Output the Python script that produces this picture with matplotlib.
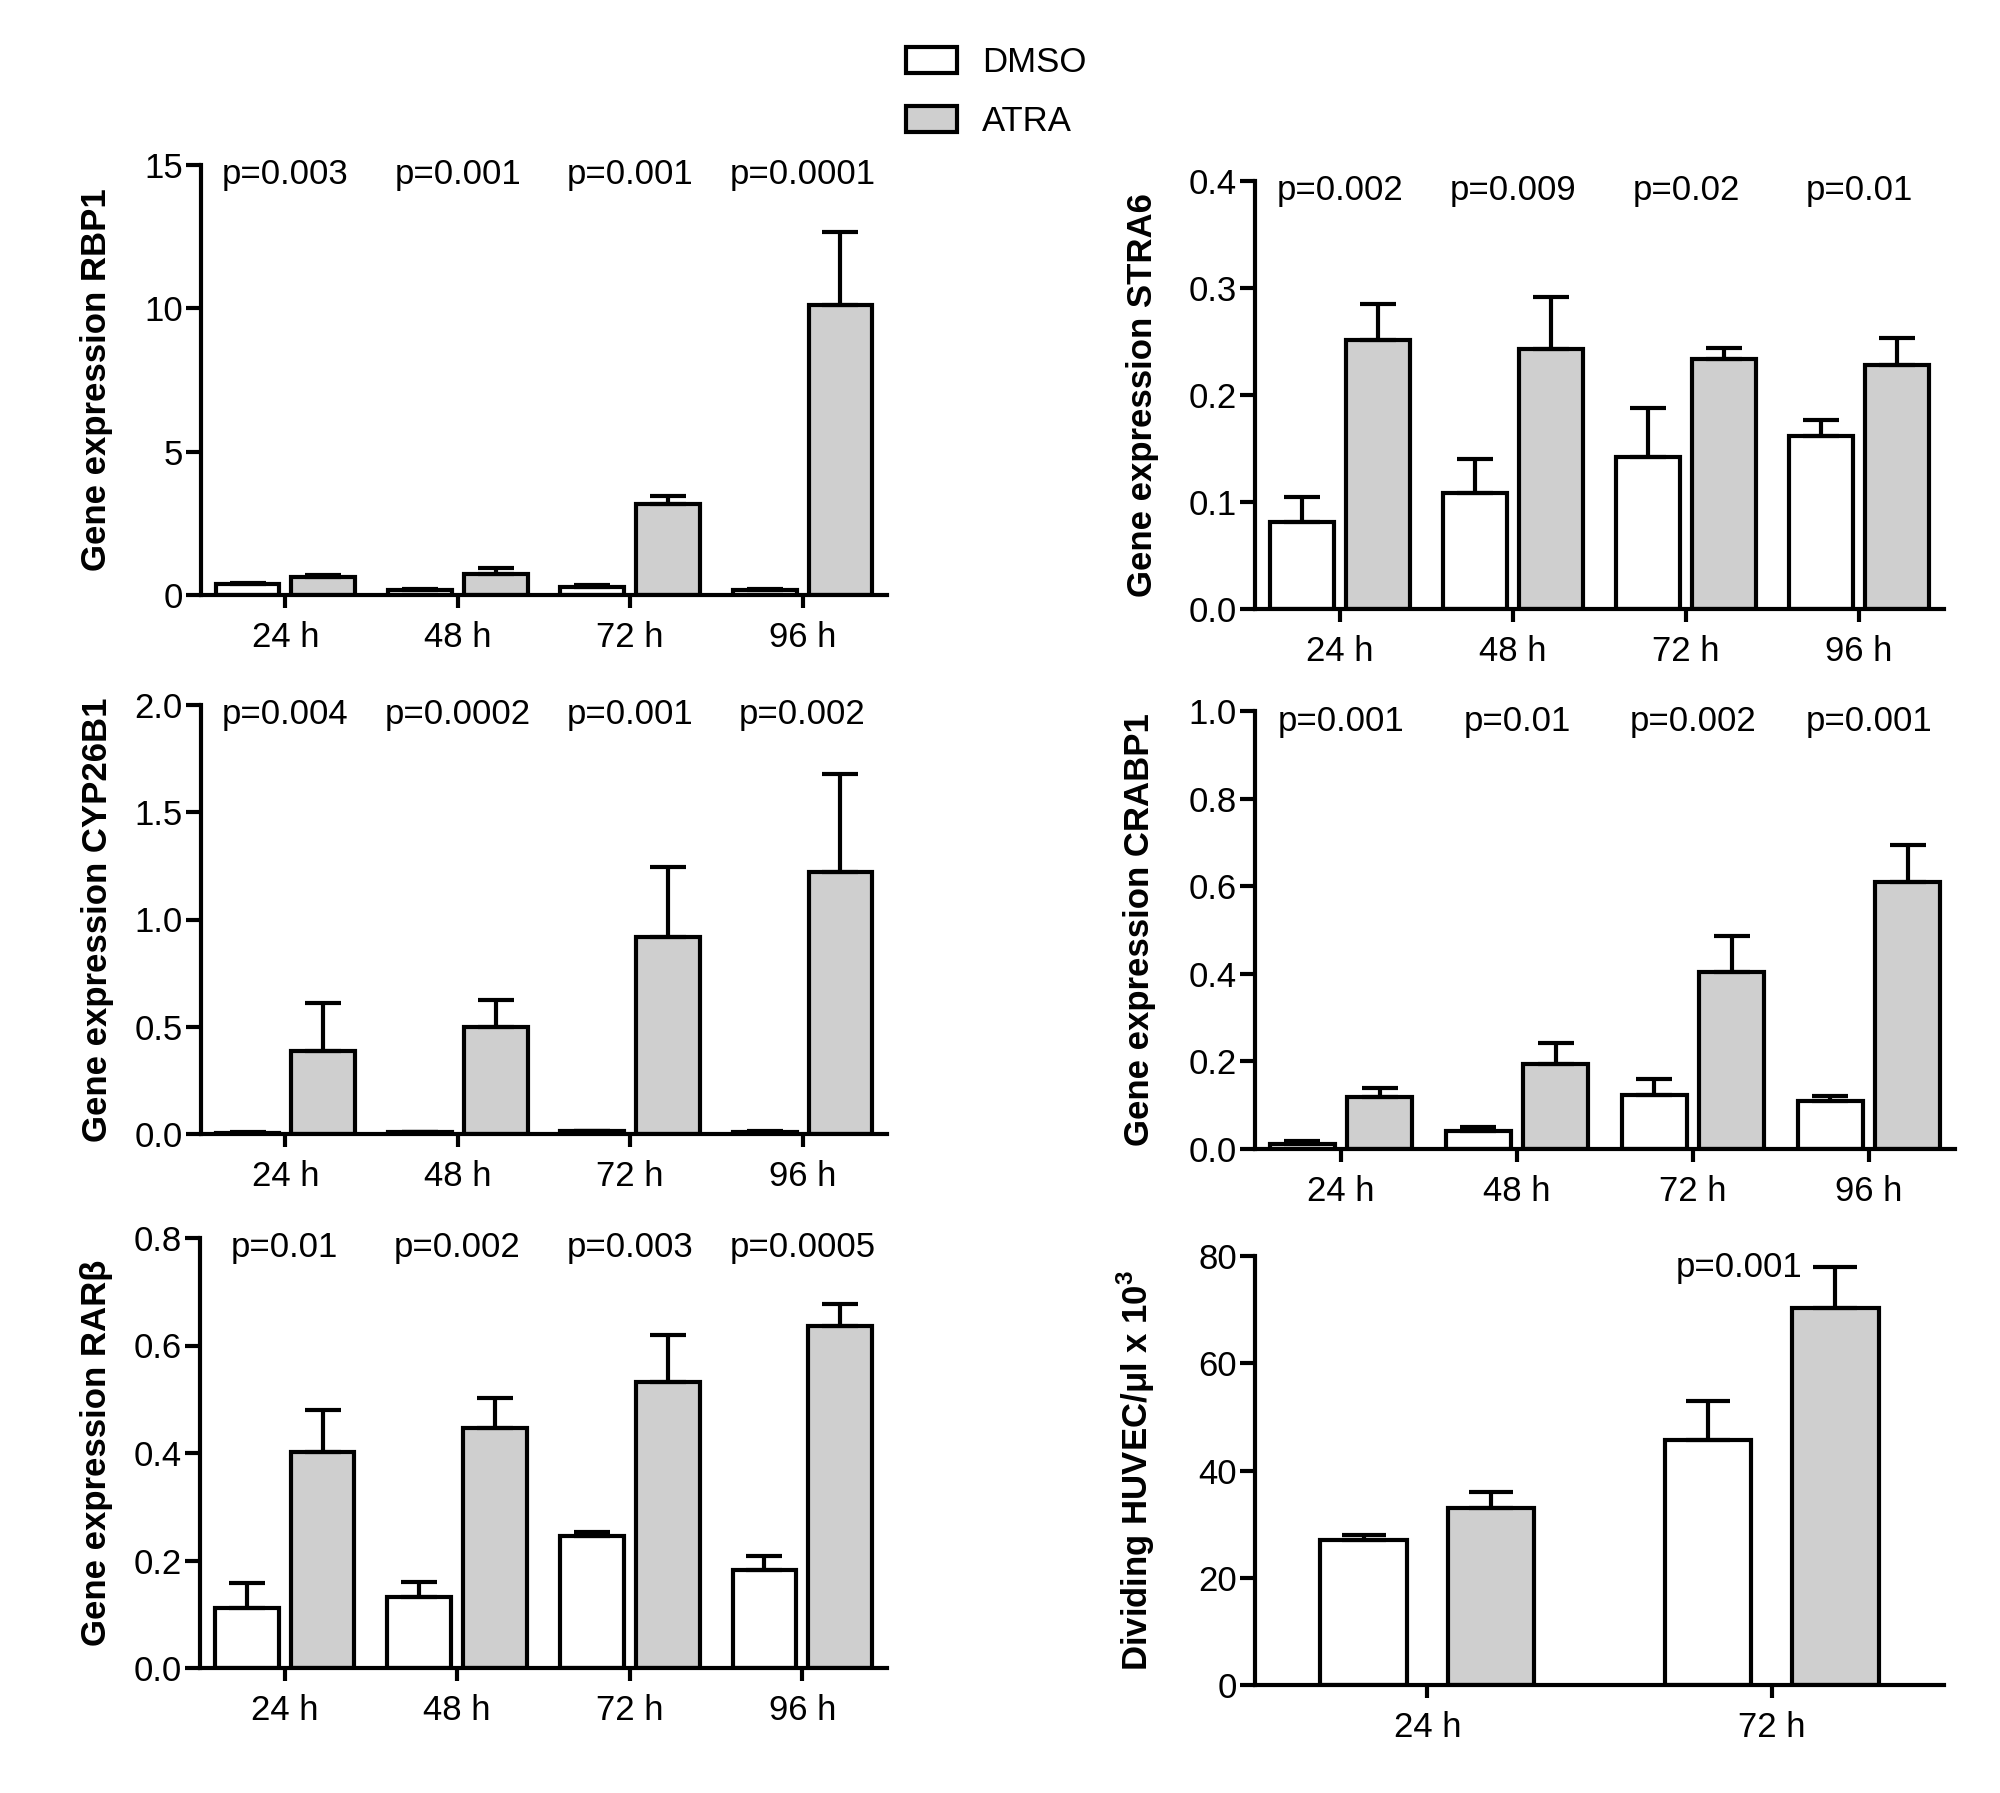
import matplotlib
matplotlib.use('Agg')
import matplotlib.pyplot as plt
from matplotlib.ticker import FormatStrFormatter
from matplotlib.patches import Patch
import numpy as np


#------------------------------------------------------------------------------
# Datos
#------------------------------------------------------------------------------

tiempos = ['24 h', '48 h', '72 h', '96 h']
tiempos_huvec = ['24 h', '72 h']

rbp1_dmso = [0.37, 0.16, 0.28, 0.19]
rbp1_dmso_err = [0.05, 0.04, 0.08, 0.02]
rbp1_atra = [0.62, 0.75, 3.19, 10.1]
rbp1_atra_err = [0.08, 0.18, 0.27, 2.55]
rbp1_p = ['p=0.003', 'p=0.001', 'p=0.001', 'p=0.0001']

cyp_dmso = [0.005, 0.008, 0.012, 0.010]
cyp_dmso_err = [0.002, 0.002, 0.003, 0.002]
cyp_atra = [0.387, 0.499, 0.918, 1.221]
cyp_atra_err = [0.223, 0.125, 0.325, 0.459]
cyp_p = ['p=0.004', 'p=0.0002', 'p=0.001', 'p=0.002']

rarb_dmso = [0.112, 0.132, 0.246, 0.182]
rarb_dmso_err = [0.046, 0.028, 0.007, 0.027]
rarb_atra = [0.402, 0.447, 0.533, 0.636]
rarb_atra_err = [0.078, 0.055, 0.087, 0.042]
rarb_p = ['p=0.01', 'p=0.002', 'p=0.003', 'p=0.0005']

stra6_dmso = [0.081, 0.108, 0.142, 0.162]
stra6_dmso_err = [0.024, 0.032, 0.046, 0.015]
stra6_atra = [0.251, 0.243, 0.234, 0.228]
stra6_atra_err = [0.034, 0.049, 0.010, 0.025]
stra6_p = ['p=0.002', 'p=0.009', 'p=0.02', 'p=0.01']

crabp1_dmso = [0.011, 0.042, 0.123, 0.109]
crabp1_dmso_err = [0.007, 0.009, 0.037, 0.012]
crabp1_atra = [0.118, 0.195, 0.405, 0.609]
crabp1_atra_err = [0.022, 0.046, 0.081, 0.085]
crabp1_p = ['p=0.001', 'p=0.01', 'p=0.002', 'p=0.001']

huvec_dmso = [27.1, 45.6]
huvec_dmso_err = [0.9, 7.4]
huvec_atra = [33.1, 70.3]
huvec_atra_err = [2.8, 7.7]
huvec_p = 'p=0.001'

GRIS = '#cfcfcf'
LW = 3
FS = 25

plt.rcParams['font.family'] = ['Liberation Sans', 'DejaVu Sans']
plt.rcParams['mathtext.fontset'] = 'custom'
plt.rcParams['mathtext.rm'] = 'Liberation Sans'
plt.rcParams['mathtext.bf'] = 'Liberation Sans:bold'


#------------------------------------------------------------------------------
# Funciones
#------------------------------------------------------------------------------

def crear_ejes(fig, izq, der, arriba, abajo):
    # Convierte pixeles de la imagen (2000x1793) a fracciones de la figura
    W, H = 2000.0, 1793.0
    return fig.add_axes([izq / W, 1 - abajo / H, (der - izq) / W, (abajo - arriba) / H])


def graficar_panel(ax, etiquetas, dmso, dmso_err, atra, atra_err, ymax, yticks,
                   ylabel, fmt, desplaz=0.22, ancho=0.37, cap=13, label_x=-0.13):
    x = np.arange(len(etiquetas))
    ax.bar(x - desplaz, dmso, ancho, color='white', edgecolor='black', linewidth=LW, zorder=2)
    ax.bar(x + desplaz, atra, ancho, color=GRIS, edgecolor='black', linewidth=LW, zorder=2)

    # Barras de error solo hacia arriba (capsize es media longitud)
    ceros = np.zeros(len(etiquetas))
    ax.errorbar(x - desplaz, dmso, yerr=[ceros, dmso_err], fmt='none', ecolor='black',
                elinewidth=LW, capsize=cap, capthick=LW, zorder=3)
    ax.errorbar(x + desplaz, atra, yerr=[ceros, atra_err], fmt='none', ecolor='black',
                elinewidth=LW, capsize=cap, capthick=LW, zorder=3)

    if len(etiquetas) == 4:
        ax.set_xlim(-0.49, 3.49)
    else:
        ax.set_xlim(-0.5, 1.5)
    ax.set_ylim(0, ymax)
    ax.set_yticks(yticks)
    ax.yaxis.set_major_formatter(FormatStrFormatter(fmt))
    ax.set_xticks(x)
    ax.set_xticklabels(etiquetas)

    for lado in ['top', 'right']:
        ax.spines[lado].set_visible(False)
    for lado in ['left', 'bottom']:
        ax.spines[lado].set_linewidth(LW)
    ax.tick_params(axis='y', direction='out', length=11, width=LW, pad=2, labelsize=FS)
    ax.tick_params(axis='x', direction='out', length=9.5, width=LW, pad=9, labelsize=FS)

    ax.set_ylabel(ylabel, fontsize=FS, fontweight='bold')
    ax.yaxis.set_label_coords(label_x, 0.5)


def poner_p(ax, textos):
    for i, t in enumerate(textos):
        ax.text(i, 0.955, t, transform=ax.get_xaxis_transform(), ha='center',
                va='baseline', fontsize=FS)


#------------------------------------------------------------------------------
# Main
#------------------------------------------------------------------------------

fig = plt.figure(figsize=(20, 17.93), dpi=100)

# RBP1
ax1 = crear_ejes(fig, 201, 887, 165, 595)
graficar_panel(ax1, tiempos, rbp1_dmso, rbp1_dmso_err, rbp1_atra, rbp1_atra_err,
               15, [0, 5, 10, 15], 'Gene expression RBP1', '%d', label_x=-0.128)
poner_p(ax1, rbp1_p)

# CYP26B1
ax2 = crear_ejes(fig, 201, 887, 705, 1134)
graficar_panel(ax2, tiempos, cyp_dmso, cyp_dmso_err, cyp_atra, cyp_atra_err,
               2.0, [0, 0.5, 1.0, 1.5, 2.0], 'Gene expression CYP26B1', '%.1f', label_x=-0.127)
poner_p(ax2, cyp_p)

# RAR beta
ax3 = crear_ejes(fig, 200, 887, 1238, 1668)
graficar_panel(ax3, tiempos, rarb_dmso, rarb_dmso_err, rarb_atra, rarb_atra_err,
               0.8, [0, 0.2, 0.4, 0.6, 0.8], 'Gene expression RARβ', '%.1f', label_x=-0.127)
poner_p(ax3, rarb_p)

# STRA6
ax4 = crear_ejes(fig, 1255, 1944, 181, 609)
graficar_panel(ax4, tiempos, stra6_dmso, stra6_dmso_err, stra6_atra, stra6_atra_err,
               0.4, [0, 0.1, 0.2, 0.3, 0.4], 'Gene expression STRA6', '%.1f', label_x=-0.139)
poner_p(ax4, stra6_p)

# CRABP1
ax5 = crear_ejes(fig, 1255, 1955, 711, 1149)
graficar_panel(ax5, tiempos, crabp1_dmso, crabp1_dmso_err, crabp1_atra, crabp1_atra_err,
               1.0, [0, 0.2, 0.4, 0.6, 0.8, 1.0], 'Gene expression CRABP1', '%.1f', label_x=-0.142)
poner_p(ax5, crabp1_p)

# HUVEC
ax6 = crear_ejes(fig, 1255, 1944, 1256, 1685)
graficar_panel(ax6, tiempos_huvec, huvec_dmso, huvec_dmso_err, huvec_atra, huvec_atra_err,
               80, [0, 20, 40, 60, 80], r'Dividing HUVEC/μl x 10$^\mathbf{3}$', '%d',
               desplaz=0.185, ancho=0.25, cap=16, label_x=-0.142)
ax6.text(1.09, 76, huvec_p, ha='right', va='baseline', fontsize=FS)

# Leyenda
manejadores = [Patch(facecolor='white', edgecolor='black', linewidth=LW, label='DMSO'),
               Patch(facecolor=GRIS, edgecolor='black', linewidth=LW, label='ATRA')]
fig.legend(handles=manejadores, loc='upper left', bbox_to_anchor=(906 / 2000, 1 - 46 / 1793),
           frameon=False, fontsize=FS, handlelength=1.46, handleheight=0.77,
           handletextpad=0.74, labelspacing=0.75, borderpad=0, borderaxespad=0)

fig.savefig('out.png', dpi=100, facecolor='white')
